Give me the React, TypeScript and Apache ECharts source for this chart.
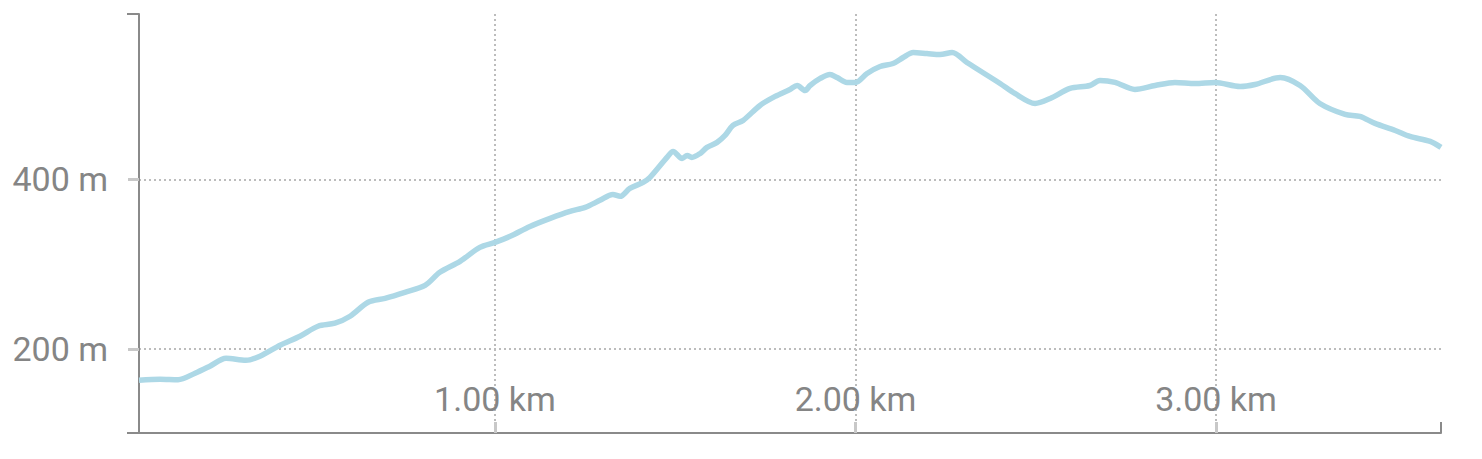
import React, { useEffect, useRef } from "react";
import * as echarts from "echarts";

// Distance along the route (km) and elevation (m)
const distanceKm = [
  0.0125, 0.071, 0.121, 0.168, 0.209, 0.254, 0.309, 0.348, 0.404, 0.459,
  0.509, 0.556, 0.598, 0.648, 0.695, 0.75, 0.806, 0.847, 0.903, 0.958,
  1.0, 1.042, 1.097, 1.153, 1.208, 1.25, 1.291, 1.327, 1.347, 1.374,
  1.411, 1.43, 1.477, 1.494, 1.519, 1.533, 1.546, 1.569, 1.588, 1.616,
  1.638, 1.66, 1.688, 1.735, 1.777, 1.818, 1.838, 1.86, 1.874, 1.902,
  1.929, 1.949, 1.976, 2.0, 2.032, 2.068, 2.104, 2.132, 2.16, 2.198,
  2.234, 2.268, 2.309, 2.401, 2.442, 2.498, 2.54, 2.595, 2.65, 2.678,
  2.72, 2.775, 2.831, 2.886, 2.942, 2.997, 3.067, 3.108, 3.178, 3.233,
  3.288, 3.358, 3.399, 3.441, 3.497, 3.538, 3.594, 3.624,
];
const elevationM = [
  163.3, 164.4, 163.8, 171.5, 179.7, 189.2, 186.8, 191.5, 204.5, 215.1,
  226.9, 230.4, 238.6, 255.1, 259.8, 266.9, 275.1, 290.5, 303.4, 319.9,
  325.8, 332.9, 344.6, 354.1, 362.3, 367.0, 375.3, 382.3, 380.0, 389.4,
  396.5, 402.4, 425.9, 433.0, 424.7, 428.3, 425.9, 430.6, 437.7, 443.6,
  451.8, 463.6, 469.5, 487.2, 497.8, 506.0, 510.7, 504.8, 510.7, 519.0,
  523.7, 520.1, 514.3, 514.3, 524.9, 533.1, 536.6, 543.7, 549.6, 548.4,
  547.2, 549.6, 537.8, 513.1, 501.3, 489.5, 495.4, 507.2, 510.7, 516.6,
  514.3, 506.0, 510.7, 514.3, 513.1, 514.3, 509.5, 511.9, 520.1, 510.7,
  489.5, 476.6, 474.2, 466.0, 457.7, 450.6, 444.8, 437.7,
];

const xMin = 0.0125;
const xMax = 3.624;
const yMin = 101;
const yMax = 595;
const xTickValues = [1, 2, 3];
const yTickValues = [200, 400];

const AXIS_DARK = "#8a8a8a";
const TICK_LIGHT = "#c8c8c8";
const GRID_COLOR = "#bcbcbc";
const LABEL_COLOR = "#858585";
const FONT = "Roboto";

export default function App() {
  const ref = useRef<HTMLDivElement>(null);

  useEffect(() => {
    if (!ref.current) return;
    const chart = echarts.init(ref.current, undefined, { renderer: "svg" });
    const data = distanceKm.map((d, i) => [d, elevationM[i]]);

    chart.setOption({
      animation: false,
      backgroundColor: "#ffffff",
      grid: { left: 139, right: 41, top: 14, bottom: 26, containLabel: false },
      xAxis: [
        {
          type: "value",
          min: xMin,
          max: xMax,
          axisLine: { show: true, lineStyle: { color: AXIS_DARK, width: 2 } },
          axisTick: {
            show: true,
            inside: true,
            length: 11,
            customValues: xTickValues,
            lineStyle: { color: TICK_LIGHT, width: 3 },
          },
          axisLabel: {
            show: true,
            inside: true,
            margin: 17,
            customValues: xTickValues,
            color: LABEL_COLOR,
            fontFamily: FONT,
            fontSize: 34,
            formatter: (v: number) => `${v.toFixed(2)} km`,
          },
          splitLine: {
            show: true,
            showMinLine: true,
            showMaxLine: true,
            lineStyle: { color: GRID_COLOR, width: 2, type: [2, 3] },
          },
        },
        {
          type: "value",
          min: xMin,
          max: xMax,
          position: "bottom",
          axisLine: { show: false },
          axisTick: {
            show: true,
            inside: true,
            length: 11,
            customValues: [xMin, xMax],
            lineStyle: { color: AXIS_DARK, width: 2 },
          },
          axisLabel: { show: false },
          splitLine: { show: false },
        },
      ],
      yAxis: [
        {
          type: "value",
          min: yMin,
          max: yMax,
          axisLine: { show: true, lineStyle: { color: AXIS_DARK, width: 2 } },
          axisTick: {
            show: true,
            inside: false,
            length: 11,
            customValues: yTickValues,
            lineStyle: { color: TICK_LIGHT, width: 3 },
          },
          axisLabel: {
            show: true,
            margin: 31,
            customValues: yTickValues,
            color: LABEL_COLOR,
            fontFamily: FONT,
            fontSize: 34,
            formatter: (v: number) => `${v} m`,
          },
          splitLine: {
            show: true,
            showMinLine: true,
            showMaxLine: true,
            lineStyle: { color: GRID_COLOR, width: 2, type: [2, 3] },
          },
        },
        {
          type: "value",
          min: yMin,
          max: yMax,
          position: "left",
          axisLine: { show: false },
          axisTick: {
            show: true,
            inside: false,
            length: 12,
            customValues: [yMin, yMax],
            lineStyle: { color: AXIS_DARK, width: 2 },
          },
          axisLabel: { show: false },
          splitLine: { show: false },
        },
      ],
      series: [
        {
          type: "line",
          data,
          xAxisIndex: 0,
          yAxisIndex: 0,
          showSymbol: false,
          smooth: 0.3,
          lineStyle: { color: "#ADD8E6", width: 5.5 },
          z: 3,
        },
      ],
    });

    return () => chart.dispose();
  }, []);

  return (
    <div
      ref={ref}
      style={{ position: "fixed", left: 0, top: 0, width: 1482, height: 459 }}
    />
  );
}
